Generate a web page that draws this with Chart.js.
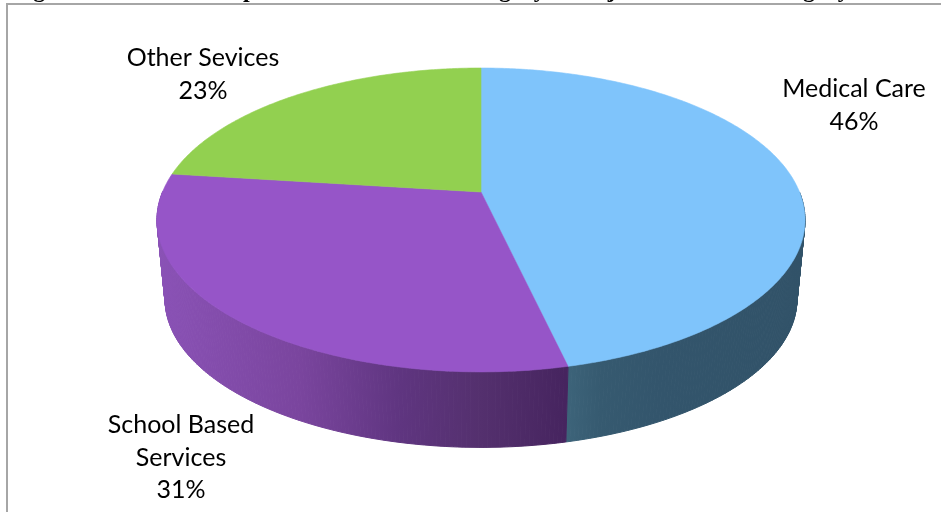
<!DOCTYPE html>
<html>
<head>
<meta charset="utf-8">
<title>Expenditure pie</title>
<script src="https://cdn.jsdelivr.net/npm/chart.js@4"></script>
<style>
  html, body { margin: 0; padding: 0; background: #fff; overflow: hidden; }
  #wrap { position: relative; width: 941px; height: 512px; overflow: hidden; }
  #frame { position: absolute; left: 6px; top: 3px; right: 0; bottom: 0; border-left: 2px solid #a6a6a6; border-top: 2px solid #a6a6a6; }
  .title { position: absolute; top: -23px; white-space: pre; font: bold 24px/24px "Liberation Serif", serif; color: #000; }
  canvas { position: absolute; left: 0; top: 0; }
</style>
</head>
<body>
<div id="wrap">
  <div id="frame"></div>
  <canvas id="pieChart" width="941" height="512"></canvas>
</div>
<script>
// data
const categories = ["Medical Care", "School Based Services", "Other Sevices"];
const shares = [46.4, 30.6, 23];
const topColors = ["#7fc4fb", "#9655c8", "#92d050"];

// the heading is cut off by the page edge, only its descenders show
const titleParts = [["Figure 3: Share of", 12], ["Expenditure on", 215], ["Category of", 451], ["Major", 573], ["Service", 660], ["Category", 755]];

// label text lines, and where they sit on the page
const labelLines = [["Medical Care"], ["School Based", "Services"], ["Other Sevices"]];
const labelCenters = [[854, 89], [181, 425], [203, 58]];

// side wall shading, left to right
const sideStops = [
    [[566, "#3d647a"], [600, "#365a70"], [660, "#33556c"], [805, "#315268"]],
    [[157, "#8a52b6"], [300, "#7a459e"], [400, "#5f3580"], [480, "#54306e"], [566, "#46245f"]],
    [[157, "#8a52b6"], [805, "#8a52b6"]]
];

// perspective of the tilted disc
const view = { cx: 481, cy: 192, rx: 318.5, ry: 146.8, k: 0.184, depth: 80, shrink: 0.975 };

titleParts.forEach(part => {
    const el = document.createElement("div");
    el.className = "title";
    el.textContent = part[0];
    el.style.left = part[1] + "px";
    document.getElementById("wrap").appendChild(el);
});

function project(angle, lower) {
    const u = Math.cos(angle), v = Math.sin(angle);
    const w = 1 - view.k * v;
    let x = view.rx * u / w, y = view.ry * v / w;
    if (lower) {
        x *= view.shrink;
        y = y * view.shrink + view.depth;
    }
    return [view.cx + x, view.cy + y];
}

function rimPoints(start, end, lower) {
    const pts = [];
    const steps = Math.max(2, Math.ceil((end - start) * 90));
    for (let i = 0; i <= steps; i++) {
        pts.push(project(start + (end - start) * i / steps, lower));
    }
    return pts;
}

const tiltedPie = {
    id: "tiltedPie",
    // the arcs keep their angles from the library, only the drawing is tilted
    beforeDatasetsDraw(chart) {
        const ctx = chart.ctx;
        const arcs = chart.getDatasetMeta(0).data;

        arcs.forEach((arc, i) => {
            const top = rimPoints(arc.startAngle, arc.endAngle, false);
            const bottom = rimPoints(arc.startAngle, arc.endAngle, true);
            const grad = ctx.createLinearGradient(157, 0, 805, 0);
            sideStops[i].forEach(s => grad.addColorStop((s[0] - 157) / 648, s[1]));
            ctx.fillStyle = grad;
            ctx.strokeStyle = grad;
            ctx.lineWidth = 1;
            for (let j = 0; j < top.length - 1; j++) {
                // the back of the wall is hidden behind the top face
                if (top[j][1] < view.cy) continue;
                ctx.beginPath();
                ctx.moveTo(top[j][0], top[j][1]);
                ctx.lineTo(top[j + 1][0], top[j + 1][1]);
                ctx.lineTo(bottom[j + 1][0], bottom[j + 1][1]);
                ctx.lineTo(bottom[j][0], bottom[j][1]);
                ctx.closePath();
                ctx.fill();
                ctx.stroke();
            }
        });

        arcs.forEach((arc, i) => {
            const rim = rimPoints(arc.startAngle, arc.endAngle, false);
            ctx.beginPath();
            ctx.moveTo(view.cx, view.cy);
            rim.forEach(p => ctx.lineTo(p[0], p[1]));
            ctx.closePath();
            ctx.fillStyle = topColors[i];
            ctx.strokeStyle = topColors[i];
            ctx.lineWidth = 0.6;
            ctx.fill();
            ctx.stroke();
        });

        // labels
        ctx.fillStyle = "#000";
        ctx.font = '25px Lato';
        ctx.textAlign = "center";
        ctx.textBaseline = "middle";
        categories.forEach((c, i) => {
            const lines = labelLines[i].concat(Math.round(shares[i]) + "%");
            lines.forEach((line, n) => {
                ctx.fillText(line, labelCenters[i][0], labelCenters[i][1] + n * 32.5);
            });
        });
        return false;
    }
};

new Chart(document.getElementById("pieChart").getContext("2d"), {
    type: "pie",
    data: {
        labels: categories,
        datasets: [{ data: shares, backgroundColor: topColors, borderWidth: 0 }]
    },
    options: {
        responsive: false,
        animation: false,
        events: [],
        plugins: { legend: { display: false }, tooltip: { enabled: false } }
    },
    plugins: [tiltedPie]
});
</script>
</body>
</html>
